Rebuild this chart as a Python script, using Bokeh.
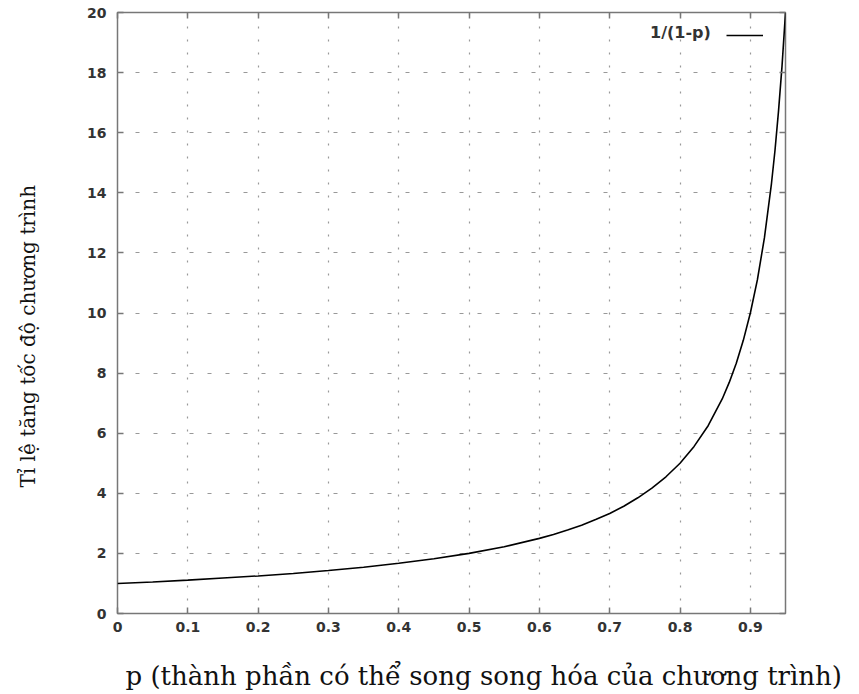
from bokeh.plotting import figure
from bokeh.models import (Range1d, FixedTicker, LinearAxis, Title, Legend,
                          LegendItem, CustomJSTickFormatter)
from bokeh.embed import file_html
from bokeh.resources import INLINE

# ---- data ----
p_values = [0.0, 0.05, 0.1, 0.15, 0.2, 0.25, 0.3, 0.35, 0.4, 0.45, 0.5, 0.55,
            0.6, 0.62, 0.64, 0.66, 0.68, 0.7, 0.72, 0.74, 0.76, 0.78, 0.8,
            0.82, 0.84, 0.86, 0.87, 0.88, 0.89, 0.9, 0.91, 0.92, 0.93, 0.935,
            0.94, 0.945, 0.95]
speedup = [1.00, 1.05, 1.11, 1.18, 1.25, 1.33, 1.43, 1.54, 1.67, 1.82, 2.00,
           2.22, 2.50, 2.63, 2.78, 2.94, 3.13, 3.33, 3.57, 3.85, 4.17, 4.55,
           5.00, 5.56, 6.25, 7.14, 7.69, 8.33, 9.09, 10.0, 11.1, 12.5, 14.3,
           15.4, 16.7, 18.2, 20.0]
series_name = "1/(1-p)"
x_ticks = [0, 0.1, 0.2, 0.3, 0.4, 0.5, 0.6, 0.7, 0.8, 0.9]
x_tick_labels = ["0", "0.1", "0.2", "0.3", "0.4", "0.5", "0.6", "0.7", "0.8", "0.9"]
y_ticks = [0, 2, 4, 6, 8, 10, 12, 14, 16, 18, 20]
y_tick_labels = ["0", "2", "4", "6", "8", "10", "12", "14", "16", "18", "20"]
x_label = "p (thành phần có thể song song hóa của chương trình)"
y_label = "Tỉ lệ tăng tốc độ chương trình"

TICK_FONT = "DejaVu Sans"
LABEL_FONT = "DejaVu Serif"
GREY = "#777777"

p = figure(width=859, height=694, output_backend="svg", toolbar_location=None,
           x_range=Range1d(0, 0.95), y_range=Range1d(0, 20))
p.min_border_left = 117
p.min_border_right = 74
p.min_border_top = 12
p.min_border_bottom = 81
p.background_fill_color = "white"
p.border_fill_color = "white"
p.outline_line_color = GREY
p.outline_line_width = 1.5

xax = p.xaxis[0]
yax = p.yaxis[0]
xax.ticker = FixedTicker(ticks=x_ticks)
yax.ticker = FixedTicker(ticks=y_ticks)
xax.major_label_overrides = dict(zip(x_ticks, x_tick_labels))
yax.major_label_overrides = dict(zip(y_ticks, y_tick_labels))
xax.major_label_standoff = 8
yax.major_label_standoff = 11

for ax in (xax, yax):
    ax.axis_line_color = None
    ax.major_tick_in = 6
    ax.major_tick_out = 0
    ax.major_tick_line_color = GREY
    ax.major_tick_line_width = 1.5
    ax.minor_tick_line_color = None
    ax.major_label_text_font = TICK_FONT
    ax.major_label_text_font_size = "14px"
    ax.major_label_text_font_style = "bold"
    ax.major_label_text_color = "#333333"

blank = CustomJSTickFormatter(code="return ''")
space = CustomJSTickFormatter(code="return ' '")

# mirrored ticks on top and right
top_ax = LinearAxis(ticker=FixedTicker(ticks=x_ticks), formatter=blank)
right_ax = LinearAxis(ticker=FixedTicker(ticks=y_ticks), formatter=blank)
for ax in (top_ax, right_ax):
    ax.axis_line_color = None
    ax.major_tick_in = 6
    ax.major_tick_out = 0
    ax.major_tick_line_color = GREY
    ax.major_tick_line_width = 1.5
    ax.minor_tick_line_color = None
    ax.major_label_standoff = 0
    ax.major_label_text_font_size = "1px"
p.add_layout(top_ax, "above")
p.add_layout(right_ax, "right")


def spacer(ticks, gap):
    """Invisible axis used only to push the axis title outward."""
    ax = LinearAxis(ticker=FixedTicker(ticks=ticks[:1]), formatter=space)
    ax.axis_line_color = None
    ax.major_tick_line_color = None
    ax.minor_tick_line_color = None
    ax.major_tick_in = 0
    ax.major_tick_out = 0
    ax.major_label_standoff = gap
    ax.major_label_text_font_size = "2px"
    return ax


p.add_layout(spacer(x_ticks, 19), "below")
p.add_layout(spacer(y_ticks, 36), "left")

# grid
p.xgrid.ticker = FixedTicker(ticks=x_ticks)
p.ygrid.ticker = FixedTicker(ticks=y_ticks)
p.xgrid.grid_line_color = "#999999"
p.xgrid.grid_line_dash = "2 11"
p.xgrid.grid_line_width = 1.2
p.ygrid.grid_line_color = "#999999"
p.ygrid.grid_line_dash = "4 14"
p.ygrid.grid_line_width = 1.2

r = p.line(p_values, speedup, line_color="black", line_width=1.6)

# legend: text then line sample (gnuplot style)
leg_text = Legend(items=[LegendItem(label=series_name, renderers=[r])],
                  location=(533, 571), glyph_width=0, glyph_height=14,
                  label_standoff=0, padding=0, margin=0, spacing=0,
                  label_height=14, border_line_color=None,
                  background_fill_alpha=0, label_text_font=TICK_FONT,
                  label_text_font_size="16px", label_text_font_style="bold",
                  label_text_color="#333333")
leg_line = Legend(items=[LegendItem(label=" ", renderers=[r])],
                  location=(609, 571), glyph_width=37, glyph_height=14,
                  label_standoff=0, padding=0, margin=0, spacing=0,
                  label_height=14, border_line_color=None,
                  background_fill_alpha=0, label_text_font=TICK_FONT,
                  label_text_font_size="14px")
p.add_layout(leg_text)
p.add_layout(leg_line)

# axis titles
xt = Title(text=x_label, align="left", offset=8, standoff=0,
           text_font=LABEL_FONT, text_font_size="26px",
           text_font_style="normal", text_color="#111111")
p.add_layout(xt, "below")
yt = Title(text=y_label, align="left", offset=126, standoff=10,
           text_font=LABEL_FONT, text_font_size="20px",
           text_font_style="normal", text_color="#111111")
p.add_layout(yt, "left")

open("out.html", "w").write(file_html(p, INLINE))
